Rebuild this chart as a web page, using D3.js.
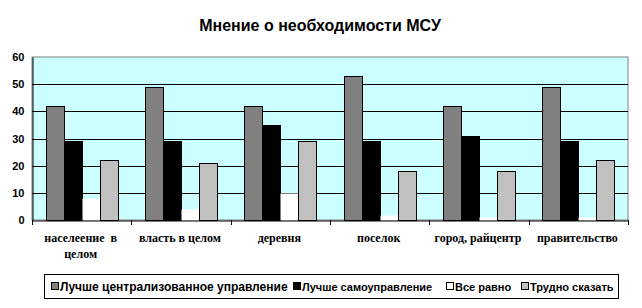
<!DOCTYPE html>
<html lang="ru">
<head>
    <meta charset="UTF-8">
    <title>mnenie-msu</title>
    <script src="https://cdn.jsdelivr.net/npm/d3@7"></script>
    <style>
        body{ margin: 0; background: #fff; }
        svg{ display: block; }
        .ytick text{ font-family: "Liberation Sans", Arial, sans-serif; font-weight: bold; font-size: 11px; }
        .xlab{ font-family: "Liberation Serif", "Times New Roman", serif; font-weight: bold; font-size: 12px; }
    </style>
</head>
<body>
<svg class="chart"></svg>
<script>
    // данные
    var categories = [["населеение  в", "целом"], ["власть в целом"], ["деревня"], ["поселок"], ["город, райцентр"], ["правительство"]];
    var seriesNames = ["Лучше централизованное управление", "Лучше самоуправление", "Все равно", "Трудно сказать"];
    var seriesColors = ["#808080", "#000000", "#ffffff", "#c0c0c0"];
    var centralized = [42, 49, 42, 53, 42, 49];
    var selfGov = [29, 29, 35, 29, 31, 29];
    var noMatter = [8, 4, 10, 2, 1, 1];
    var hardToSay = [22, 21, 29, 18, 18, 22];
    var yTicks = [0, 10, 20, 30, 40, 50, 60];

    var width = 642, height = 308;
    var plot = {left: 32, right: 628, top: 57, bottom: 220};

    var svg = d3.select('.chart').attr('width', width).attr('height', height);

    var x = d3.scaleBand()
        .domain(d3.range(categories.length))
        .range([plot.left, plot.right]);

    var inner = d3.scaleBand()
        .domain(d3.range(seriesNames.length))
        .range([0, x.bandwidth()])
        .paddingOuter(0.75)
        .paddingInner(0);

    var y = d3.scaleLinear().domain([0, 60]).range([plot.bottom, plot.top]);

    // фон
    svg.append('rect')
        .attr('x', plot.left).attr('y', plot.top)
        .attr('width', plot.right - plot.left).attr('height', plot.bottom - plot.top)
        .attr('fill', '#ccffff').attr('stroke', '#808080').attr('stroke-width', 1);

    // сетка
    svg.append('g').selectAll('line')
        .data(yTicks.filter(function (d) { return d > 0 && d < 60; }))
        .enter().append('line')
        .attr('x1', plot.left).attr('x2', plot.right)
        .attr('y1', function (d) { return Math.round(y(d)) + 0.5; })
        .attr('y2', function (d) { return Math.round(y(d)) + 0.5; })
        .attr('stroke', '#000');

    // столбцы
    var series = [centralized, selfGov, noMatter, hardToSay];
    series.forEach(function (vals, s) {
        svg.append('g').selectAll('rect')
            .data(vals)
            .enter().append('rect')
            .attr('x', function (d, i) { return Math.round(x(i) + inner(s)) + 0.5; })
            .attr('y', function (d) { return Math.round(y(d)) + 0.5; })
            .attr('width', Math.round(inner.bandwidth()))
            .attr('height', function (d) { return Math.round(y(0)) - Math.round(y(d)); })
            .attr('fill', seriesColors[s])
            .attr('stroke', s === 2 ? 'none' : '#000')
            .attr('stroke-width', 1);
    });

    // оси
    var yAxis = d3.axisLeft(y).tickValues(yTicks).tickSize(0).tickPadding(8);
    var gy = svg.append('g').attr('class', 'ytick')
        .attr('transform', 'translate(' + (plot.left + 0.5) + ',0)')
        .call(yAxis);
    gy.select('.domain').attr('stroke', '#000');
    gy.selectAll('text').attr('fill', '#000');

    var xAxis = d3.axisBottom(x).tickValues([]).tickSizeOuter(0);
    svg.append('g')
        .attr('transform', 'translate(0,' + (plot.bottom + 0.5) + ')')
        .call(xAxis)
        .select('.domain').attr('stroke', '#000');

    svg.append('g').selectAll('line')
        .data(d3.range(categories.length + 1))
        .enter().append('line')
        .attr('x1', function (i) { return Math.round(plot.left + i * x.step()) + 0.5; })
        .attr('x2', function (i) { return Math.round(plot.left + i * x.step()) + 0.5; })
        .attr('y1', plot.bottom).attr('y2', plot.bottom + 5)
        .attr('stroke', '#000');

    // подписи категорий
    var lab = svg.append('g').selectAll('text')
        .data(categories)
        .enter().append('text')
        .attr('class', 'xlab')
        .attr('text-anchor', 'middle')
        .attr('x', function (d, i) { return x(i) + x.bandwidth() / 2 - 1; })
        .attr('y', 242);
    lab.selectAll('tspan')
        .data(function (d) { return d; })
        .enter().append('tspan')
        .attr('x', function () { return d3.select(this.parentNode).attr('x'); })
        .attr('dy', function (d, j) { return j === 0 ? 0 : 16; })
        .style('white-space', 'pre')
        .text(function (d) { return d; });

    // заголовок
    svg.append('text')
        .attr('x', 320).attr('y', 31)
        .attr('text-anchor', 'middle')
        .style('font-family', '"Liberation Sans", Arial, sans-serif')
        .style('font-weight', 'bold').style('font-size', '16px')
        .text('Мнение о необходимости МСУ');

    // легенда
    var legend = svg.append('g');
    legend.append('rect')
        .attr('x', 44.5).attr('y', 274.5).attr('width', 574).attr('height', 24)
        .attr('fill', '#fff').attr('stroke', '#000');
    var legX = [51, 293, 446, 521];
    var legSize = [12, 11, 11, 11];
    seriesNames.forEach(function (name, s) {
        legend.append('rect')
            .attr('x', legX[s] + 0.5).attr('y', 282.5).attr('width', 7).attr('height', 7)
            .attr('fill', seriesColors[s]).attr('stroke', '#000');
        legend.append('text')
            .attr('x', legX[s] + 9).attr('y', 290.5)
            .style('font-family', '"Liberation Sans", Arial, sans-serif')
            .style('font-weight', 'bold')
            .style('font-size', legSize[s] + 'px')
            .text(name);
    });
</script>
</body>
</html>
